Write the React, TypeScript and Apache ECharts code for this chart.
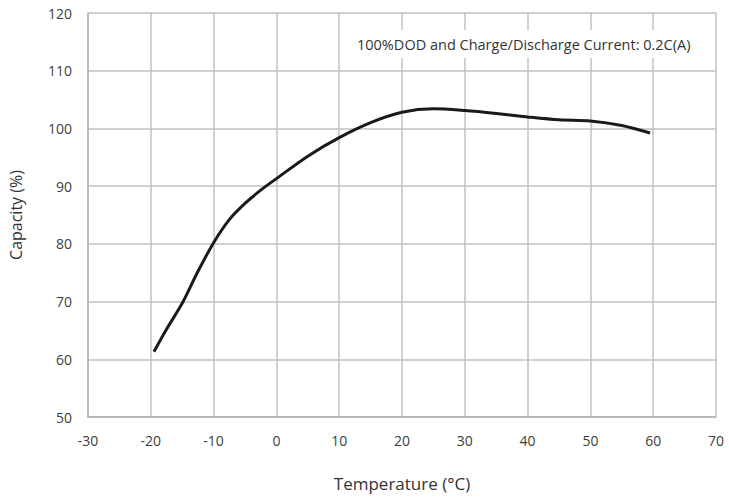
import React, { useEffect, useRef } from "react";
import * as echarts from "echarts";

const temperatures = [-19.5, -17.5, -15, -12.5, -10, -7.5, -5, -2.5, 0, 5, 10, 15, 20, 25, 30, 35, 40, 45, 50, 55, 59.5];
const capacities = [61.3, 65.2, 69.7, 75.2, 80.2, 84.2, 87.0, 89.3, 91.3, 95.2, 98.4, 101.0, 102.8, 103.4, 103.1, 102.6, 102.0, 101.5, 101.3, 100.5, 99.2];
const noteText = "100%DOD and Charge/Discharge Current: 0.2C(A)";
const xTitle = "Temperature (°C)";
const yTitle = "Capacity (%)";

export default function App() {
  const ref = useRef<HTMLDivElement>(null);
  useEffect(() => {
    if (!ref.current) return;
    const chart = echarts.init(ref.current, null, { renderer: "svg" });
    const font = "'Open Sans', sans-serif";
    chart.setOption({
      animation: false,
      backgroundColor: "#ffffff",
      grid: { left: 86, right: 13, top: 13, bottom: 83 },
      xAxis: {
        type: "value",
        min: -30,
        max: 70,
        interval: 10,
        name: xTitle,
        nameLocation: "middle",
        nameGap: 58,
        nameTextStyle: { fontFamily: font, fontSize: 17, color: "#333" },
        axisLine: { show: true, onZero: false, lineStyle: { color: "#b3b3b3", width: 1.5 } },
        axisTick: { show: false },
        axisLabel: { margin: 16, fontFamily: font, fontSize: 14, color: "#404040" },
        splitLine: { show: true, lineStyle: { color: "#c0c0c0", width: 1.5 } },
      },
      yAxis: {
        type: "value",
        min: 50,
        max: 120,
        interval: 10,
        name: yTitle,
        nameLocation: "middle",
        nameGap: 64,
        nameTextStyle: { fontFamily: font, fontSize: 16, color: "#333" },
        axisLine: { show: true, onZero: false, lineStyle: { color: "#b3b3b3", width: 1.5 } },
        axisTick: { show: false },
        axisLabel: { margin: 16, fontFamily: font, fontSize: 14, color: "#404040" },
        splitLine: { show: true, lineStyle: { color: "#c0c0c0", width: 1.5 } },
      },
      graphic: [
        {
          type: "rect",
          shape: { x: 345, y: 30, width: 370, height: 28 },
          style: { fill: "#ffffff" },
          z: 10,
        },
        {
          type: "text",
          x: 357,
          y: 44,
          style: {
            text: noteText,
            fontFamily: font,
            fontSize: 14.5,
            fill: "#333",
            verticalAlign: "middle",
          },
          z: 11,
        },
      ],
      series: [
        {
          type: "line",
          data: temperatures.map((t, i) => [t, capacities[i]]),
          smooth: 0.3,
          showSymbol: false,
          lineStyle: { color: "#1a1a1a", width: 3 },
        },
      ],
    });
    return () => chart.dispose();
  }, []);
  return (
    <div
      ref={ref}
      style={{ position: "fixed", left: 0, top: 0, width: 729, height: 500 }}
    />
  );
}
